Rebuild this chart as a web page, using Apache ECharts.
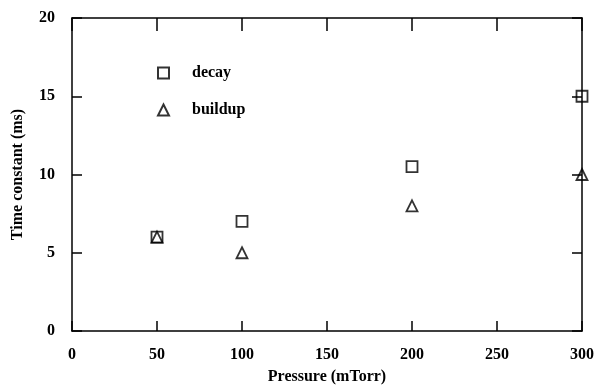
<!DOCTYPE html>
<html><head><meta charset="utf-8">
<script src="https://cdn.jsdelivr.net/npm/echarts@6/dist/echarts.min.js"></script>
<style>html,body{margin:0;padding:0;background:#fff}#c{width:597px;height:385px}</style>
</head><body><div id="c"></div>
<script>
const pressure = [50, 100, 200, 300];
const decay = [6, 7, 10.5, 15];
const buildup = [6, 5, 8, 10];
const xTicks = [0, 50, 100, 150, 200, 250, 300];
const yTicks = [0, 5, 10, 15, 20];

const font = 'Liberation Serif';
const chart = echarts.init(document.getElementById('c'));
function axisBase(len) {
  return {
    axisLine: {onZero: false, lineStyle: {color: '#000', width: 1.5}},
    axisTick: {inside: true, length: len, lineStyle: {color: '#000', width: 1.5}},
    splitLine: {show: false}
  };
}
chart.setOption({
  animation: false,
  backgroundColor: '#fff',
  grid: {left: 72, right: 15, top: 18, bottom: 54, outerBoundsMode: 'none', containLabel: false},
  legend: {
    orient: 'vertical', left: 152, top: 60, itemGap: 21,
    itemWidth: 11, itemHeight: 11,
    textStyle: {fontFamily: font, fontWeight: 'bold', fontSize: 16, color: '#000', padding: [0, 0, 0, 18]},
    data: [{name: 'decay'}, {name: 'buildup'}]
  },
  xAxis: [
    Object.assign(axisBase(10), {
      type: 'value', min: xTicks[0], max: xTicks[xTicks.length - 1], interval: 50,
      name: 'Pressure (mTorr)', nameLocation: 'middle', nameGap: 38,
      nameTextStyle: {fontFamily: font, fontWeight: 'bold', fontSize: 16, color: '#000'},
      axisLabel: {fontFamily: font, fontWeight: 'bold', fontSize: 16, color: '#000', margin: 16}
    }),
    Object.assign(axisBase(13), {
      type: 'value', position: 'top', min: 0, max: 300, interval: 50,
      axisLabel: {show: false}
    })
  ],
  yAxis: [
    Object.assign(axisBase(10), {
      type: 'value', min: yTicks[0], max: yTicks[yTicks.length - 1], interval: 5,
      name: 'Time constant (ms)', nameLocation: 'middle', nameGap: 46,
      nameTextStyle: {fontFamily: font, fontWeight: 'bold', fontSize: 16, color: '#000'},
      axisLabel: {fontFamily: font, fontWeight: 'bold', fontSize: 16, color: '#000', margin: 17}
    }),
    Object.assign(axisBase(10), {
      type: 'value', position: 'right', min: 0, max: 20, interval: 5,
      axisLabel: {show: false}
    })
  ],
  series: [
    {
      name: 'decay', type: 'scatter', symbol: 'rect', symbolSize: 11,
      itemStyle: {color: 'rgba(255,255,255,0)', borderColor: '#000', borderWidth: 1.8},
      data: pressure.map((p, i) => [p, decay[i]])
    },
    {
      name: 'buildup', type: 'scatter', symbol: 'triangle', symbolSize: 11,
      itemStyle: {color: 'rgba(255,255,255,0)', borderColor: '#000', borderWidth: 1.8},
      data: pressure.map((p, i) => [p, buildup[i]])
    }
  ]
});
</script></body></html>
